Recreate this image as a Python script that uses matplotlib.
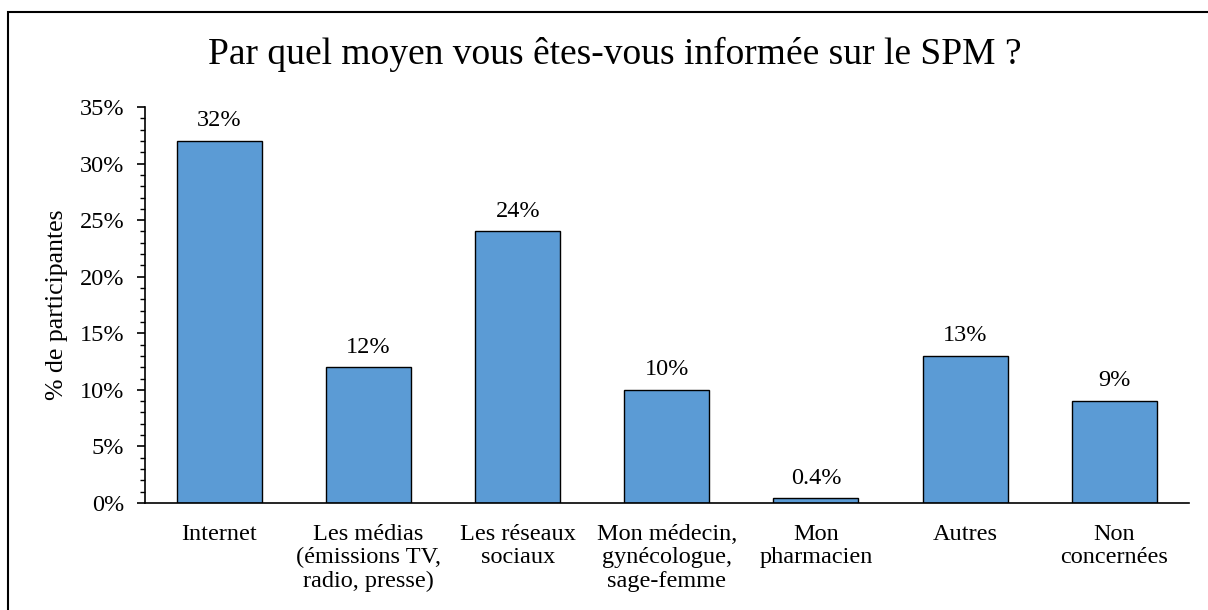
import matplotlib.pyplot as plt
from matplotlib.ticker import MultipleLocator, FuncFormatter
from matplotlib.patches import Rectangle

plt.rcParams["font.family"] = ["Liberation Serif", "DejaVu Serif"]

# Data
categories = [
    "Internet",
    "Les médias\n(émissions TV,\nradio, presse)",
    "Les réseaux\nsociaux",
    "Mon médecin,\ngynécologue,\nsage-femme",
    "Mon\npharmacien",
    "Autres",
    "Non\nconcernées",
]
values = [32, 12, 24, 10, 0.4, 13, 9]
value_labels = ["32%", "12%", "24%", "10%", "0.4%", "13%", "9%"]

fig = plt.figure(figsize=(12.08, 6.10), dpi=100)
ax = fig.add_axes([0.120, 0.1754, 0.864, 0.6492])

x = range(len(categories))
ax.bar(x, values, width=0.57, color="#5B9BD5", edgecolor="black", linewidth=1.0)

for xi, v, lab in zip(x, values, value_labels):
    ax.annotate(lab, (xi, v), xytext=(0, 7), textcoords="offset points",
                ha="center", va="bottom", fontsize=17.5)

ax.set_xlim(-0.5, len(categories) - 0.5)
ax.set_ylim(0, 35)
ax.yaxis.set_major_locator(MultipleLocator(5))
ax.yaxis.set_minor_locator(MultipleLocator(1))
ax.yaxis.set_major_formatter(FuncFormatter(lambda v, p: f"{v:.0f}%"))
ax.tick_params(axis="y", which="major", length=6, width=1.2, labelsize=17.5, pad=9)
ax.tick_params(axis="y", which="minor", length=3.5, width=1.0)
ax.tick_params(axis="x", length=0, labelsize=17.5, pad=15)
ax.set_xticks(list(x))
ax.set_xticklabels(categories, linespacing=1.15)

for side in ("top", "right"):
    ax.spines[side].set_visible(False)
ax.spines["left"].set_linewidth(1.2)
ax.spines["bottom"].set_linewidth(1.2)

ax.set_ylabel("% de participantes", fontsize=18.5, labelpad=8)

fig.text(0.509, 0.91, "Par quel moyen vous êtes-vous informée sur le SPM ?",
         ha="center", va="center", fontsize=27)

# Outer frame (runs off the right and bottom edges)
fig.patches.append(Rectangle((8 / 1208, -0.05), 1.1, 1.05 - 12 / 610,
                             transform=fig.transFigure, fill=False,
                             edgecolor="black", linewidth=1.5))

fig.savefig("out.png", dpi=100)
